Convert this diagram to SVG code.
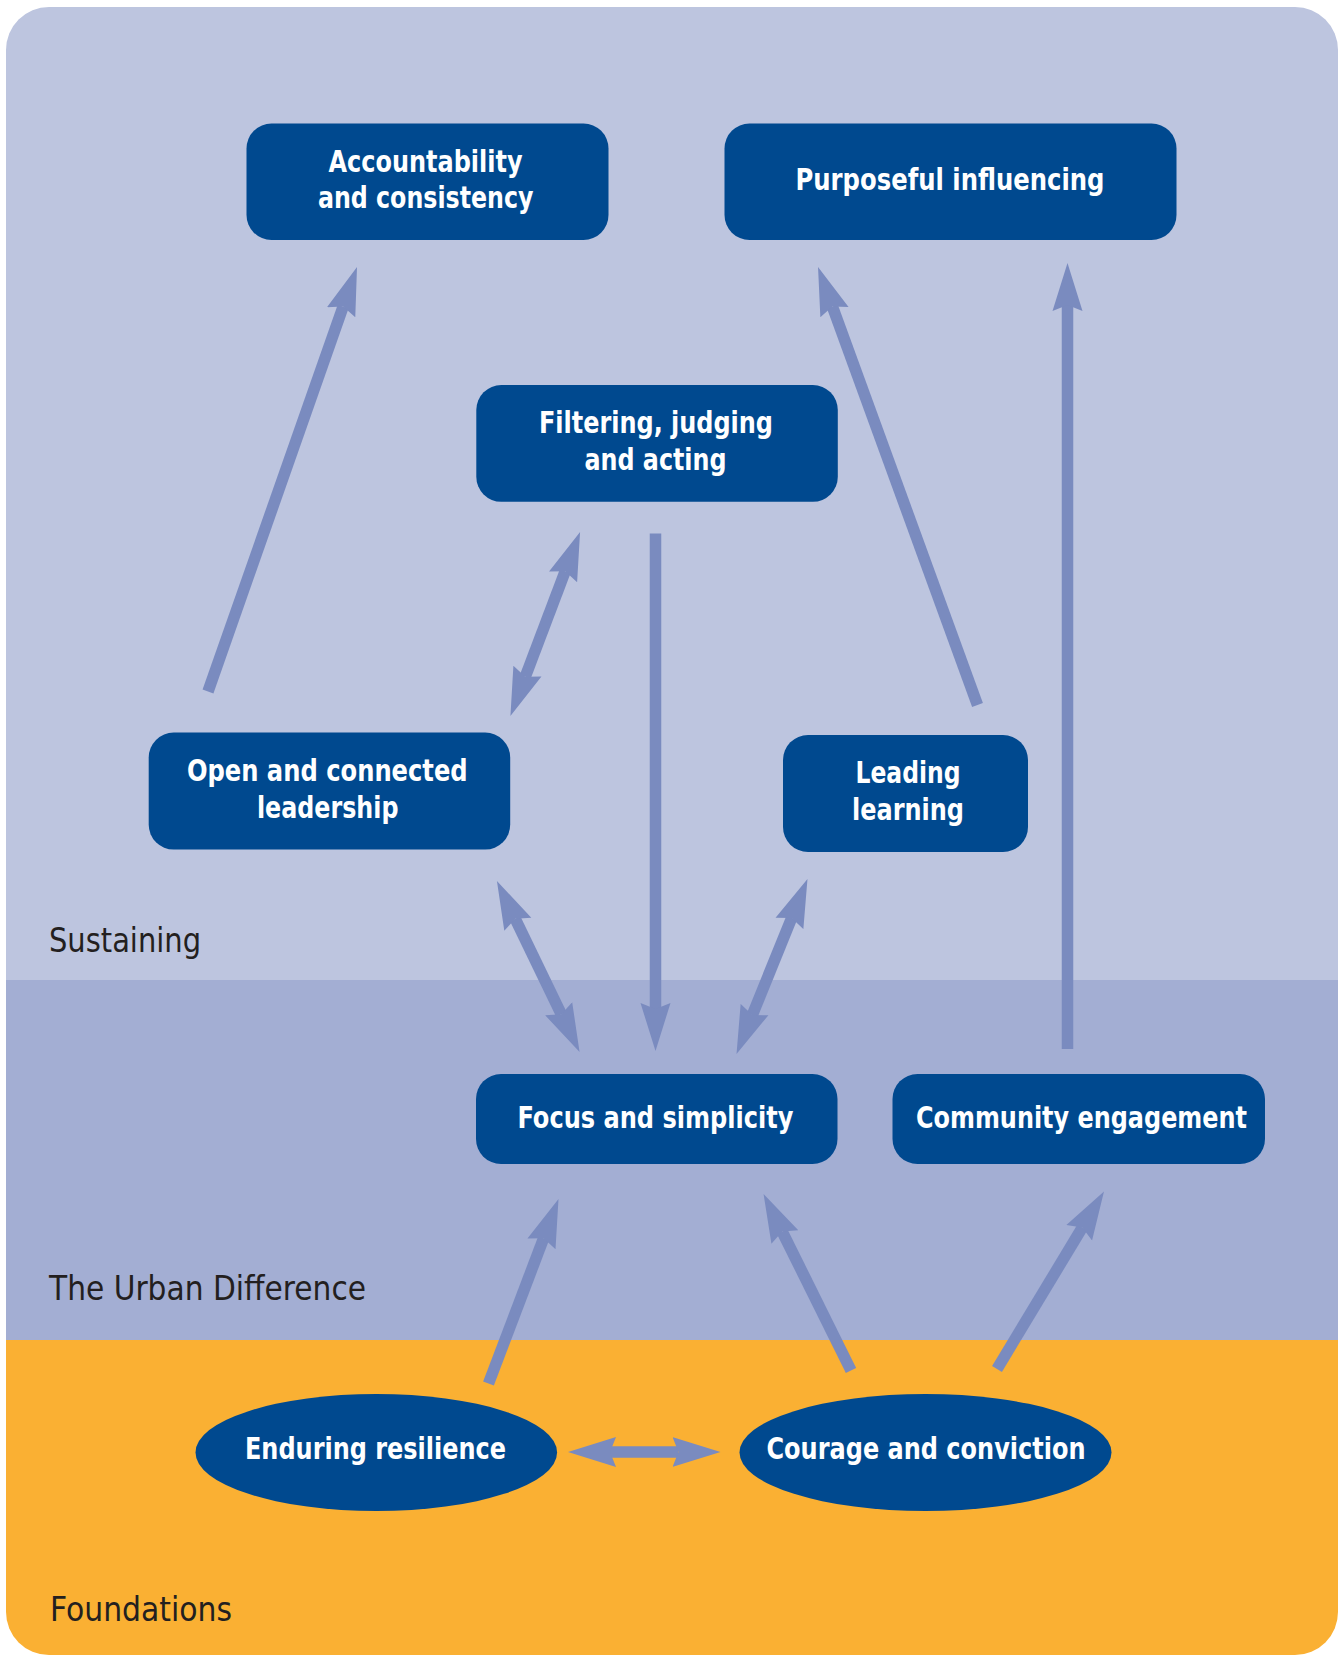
<svg xmlns="http://www.w3.org/2000/svg" width="1343" height="1656" viewBox="0 0 1343 1656">
<style>
.node{fill:#00498F;}
.nt{fill:#FFFFFF;font-family:"Liberation Sans Narrow","DejaVu Sans Condensed","Liberation Sans",sans-serif;font-weight:bold;font-size:30px;text-anchor:middle;}
.band{fill:#231F20;font-family:"Liberation Sans Narrow","DejaVu Sans Condensed","Liberation Sans",sans-serif;font-size:34px;}
.conn{stroke:#7A8BBF;stroke-width:11.5;fill:none;stroke-linecap:butt;}
</style>
<defs>
<clipPath id="bg"><rect x="6" y="7" width="1332" height="1648" rx="43" ry="43"/></clipPath>
<marker id="ah" markerUnits="userSpaceOnUse" viewBox="0 -16 50 32" markerWidth="50" markerHeight="32" refX="6" refY="0" orient="auto-start-reverse">
<path d="M0,-15 L48,0 L0,15 L6,0 Z" fill="#7A8BBF"/>
</marker>
</defs>
<rect width="1343" height="1656" fill="#FFFFFF"/>
<g id="background" clip-path="url(#bg)">
<rect x="0" y="0" width="1343" height="980" fill="#BDC5DF"/>
<rect x="0" y="980" width="1343" height="360" fill="#A3AED3"/>
<rect x="0" y="1340" width="1343" height="316" fill="#FAB033"/>
</g>
<g id="band-labels">
<text class="band" x="49" y="952" textLength="152" lengthAdjust="spacingAndGlyphs">Sustaining</text>
<text class="band" x="49" y="1300" textLength="317" lengthAdjust="spacingAndGlyphs">The Urban Difference</text>
<text class="band" x="50" y="1621" textLength="182" lengthAdjust="spacingAndGlyphs">Foundations</text>
</g>
<g id="connectors">
<line class="conn" x1="208" y1="691.5" x2="343.1" y2="306.6" marker-end="url(#ah)"/>
<line class="conn" x1="977.5" y1="705" x2="832.4" y2="306.5" marker-end="url(#ah)"/>
<line class="conn" x1="1067.5" y1="1049" x2="1067.5" y2="305" marker-end="url(#ah)"/>
<line class="conn" x1="525.3" y1="676.7" x2="565.2" y2="571.3" marker-start="url(#ah)" marker-end="url(#ah)"/>
<line class="conn" x1="515.2" y1="918.8" x2="561.3" y2="1014.2" marker-start="url(#ah)" marker-end="url(#ah)"/>
<line class="conn" x1="655.5" y1="533.5" x2="655.5" y2="1009" marker-end="url(#ah)"/>
<line class="conn" x1="791.7" y1="917.9" x2="752.3" y2="1015.1" marker-start="url(#ah)" marker-end="url(#ah)"/>
<line class="conn" x1="488.5" y1="1383.5" x2="543.6" y2="1238.3" marker-end="url(#ah)"/>
<line class="conn" x1="851" y1="1370.5" x2="782.2" y2="1231.6" marker-end="url(#ah)"/>
<line class="conn" x1="997" y1="1369" x2="1082.3" y2="1227.5" marker-end="url(#ah)"/>
<line class="conn" x1="610" y1="1452" x2="678.5" y2="1452" marker-start="url(#ah)" marker-end="url(#ah)"/>
</g>
<g id="node-accountability">
<rect class="node" x="246.5" y="123.5" width="362" height="116.5" rx="25"/>
<text class="nt" x="425.5" y="171.7" textLength="194" lengthAdjust="spacingAndGlyphs">Accountability</text>
<text class="nt" x="425.7" y="208.3" textLength="215.6" lengthAdjust="spacingAndGlyphs">and consistency</text>
</g>
<g id="node-purposeful">
<rect class="node" x="724.5" y="123.5" width="452" height="116.5" rx="25"/>
<text class="nt" x="950" y="190" textLength="309" lengthAdjust="spacingAndGlyphs">Purposeful influencing</text>
</g>
<g id="node-filtering">
<rect class="node" x="476.3" y="385" width="361.5" height="116.8" rx="25"/>
<text class="nt" x="656" y="433.2" textLength="234" lengthAdjust="spacingAndGlyphs">Filtering, judging</text>
<text class="nt" x="655.5" y="469.8" textLength="142" lengthAdjust="spacingAndGlyphs">and acting</text>
</g>
<g id="node-open">
<rect class="node" x="148.7" y="732.6" width="361.5" height="117" rx="25"/>
<text class="nt" x="327.3" y="781" textLength="280.8" lengthAdjust="spacingAndGlyphs">Open and connected</text>
<text class="nt" x="327.7" y="817.6" textLength="141.5" lengthAdjust="spacingAndGlyphs">leadership</text>
</g>
<g id="node-leading">
<rect class="node" x="783" y="735" width="245" height="117" rx="25"/>
<text class="nt" x="908" y="783" textLength="105" lengthAdjust="spacingAndGlyphs">Leading</text>
<text class="nt" x="908" y="819.6" textLength="112" lengthAdjust="spacingAndGlyphs">learning</text>
</g>
<g id="node-focus">
<rect class="node" x="476" y="1074" width="361.5" height="90" rx="25"/>
<text class="nt" x="655.5" y="1128" textLength="276" lengthAdjust="spacingAndGlyphs">Focus and simplicity</text>
</g>
<g id="node-community">
<rect class="node" x="892.5" y="1074" width="372.5" height="90" rx="25"/>
<text class="nt" x="1081.5" y="1128" textLength="331" lengthAdjust="spacingAndGlyphs">Community engagement</text>
</g>
<g id="node-enduring">
<ellipse class="node" cx="376.3" cy="1452.5" rx="180.8" ry="58.5"/>
<text class="nt" x="375.5" y="1459" textLength="261" lengthAdjust="spacingAndGlyphs">Enduring resilience</text>
</g>
<g id="node-courage">
<ellipse class="node" cx="925.5" cy="1452.5" rx="186" ry="58.5"/>
<text class="nt" x="926" y="1459" textLength="319" lengthAdjust="spacingAndGlyphs">Courage and conviction</text>
</g>
</svg>
